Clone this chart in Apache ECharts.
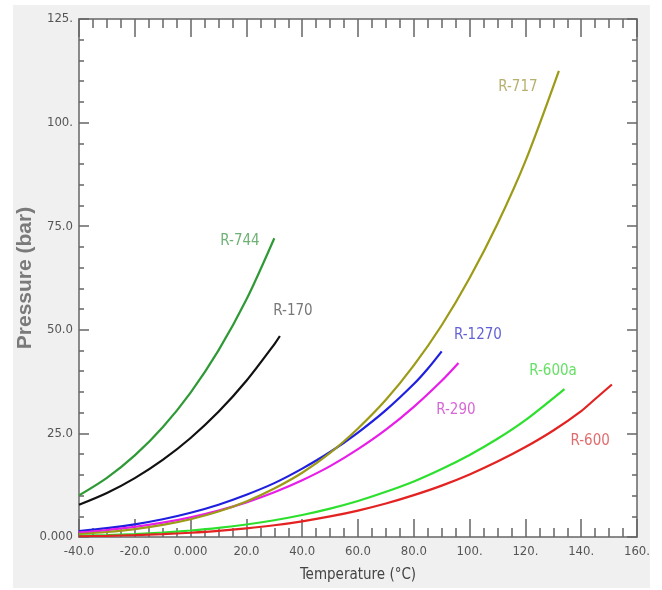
<!DOCTYPE html>
<html>
<head>
<meta charset="utf-8">
<script src="https://cdn.jsdelivr.net/npm/echarts@6/dist/echarts.min.js"></script>
<style>
  html, body { margin: 0; padding: 0; background: #ffffff; }
  #chart { position: absolute; left: 13px; top: 5px; width: 637px; height: 583px; }
</style>
</head>
<body>
<div id="chart"></div>
<script>
// ---- Data (saturation pressure, bar, vs temperature, °C) ----
const r744T  = [-40, -30, -20, -10, 0, 10, 20, 30];
const r744P  = [10.05, 14.28, 19.70, 26.49, 34.85, 45.02, 57.29, 72.1];

const r170T  = [-40, -30, -20, -10, 0, 10, 20, 30, 32];
const r170P  = [7.76, 10.6, 14.2, 18.6, 23.9, 30.2, 37.7, 46.5, 48.5];

const r1270T = [-40, -30, -20, -10, 0, 10, 20, 30, 40, 50, 60, 70, 80, 85, 90];
const r1270P = [1.43, 2.12, 3.06, 4.28, 5.85, 7.80, 10.2, 13.0, 16.5, 20.5, 25.2, 30.6, 36.9, 40.6, 44.8];

const r290T  = [-40, -30, -20, -10, 0, 10, 20, 30, 40, 50, 60, 70, 80, 90, 96];
const r290P  = [1.11, 1.68, 2.44, 3.45, 4.74, 6.36, 8.36, 10.8, 13.7, 17.1, 21.2, 25.9, 31.4, 37.7, 42.0];

const r717T  = [-40, -30, -20, -10, 0, 10, 20, 30, 40, 50, 60, 70, 80, 90, 100, 110, 120, 132];
const r717P  = [0.72, 1.20, 1.90, 2.91, 4.29, 6.15, 8.57, 11.7, 15.5, 20.3, 26.2, 33.1, 41.4, 51.1, 62.5, 75.6, 90.7, 112.5];

const r600aT = [-40, -30, -20, -10, 0, 10, 20, 30, 40, 50, 60, 70, 80, 90, 100, 110, 120, 134];
const r600aP = [0.29, 0.46, 0.72, 1.08, 1.57, 2.20, 3.02, 4.05, 5.31, 6.85, 8.69, 10.9, 13.4, 16.4, 19.8, 23.7, 28.2, 35.7];

const r600T  = [-40, -30, -20, -10, 0, 10, 20, 30, 40, 50, 60, 70, 80, 90, 100, 110, 120, 130, 140, 145, 151];
const r600P  = [0.18, 0.29, 0.45, 0.68, 1.03, 1.48, 2.08, 2.83, 3.79, 4.96, 6.38, 8.08, 10.1, 12.4, 15.1, 18.2, 21.7, 25.7, 30.4, 33.3, 36.8];

const seriesNames = ['R-744', 'R-170', 'R-1270', 'R-290', 'R-717', 'R-600a', 'R-600'];

// tick labels as printed on the chart
const xTickLabels = ['-40.0', '-20.0', '0.000', '20.0', '40.0', '60.0', '80.0', '100.', '120.', '140.', '160.'];
const yTickLabels = ['0.000', '25.0', '50.0', '75.0', '100.', '125.'];

// curve-label anchors (data units)
const labelX = [17.7, 36.7, 103, 95.1, 117.3, 129.9, 143.2];
const labelY = [71.5, 54.6, 48.6, 30.7, 108.5, 40.1, 23.2];

// ---- Styling ----
const lineColors  = ['#2f9a35', '#111111', '#1f1fe0', '#e81ee8', '#9c9a16', '#2ee02e', '#e32222'];
const labelColors = ['#4a9e52', '#555555', '#3a3acb', '#cc3fcc', '#a39c4a', '#3fd83f', '#d84848'];

const xs = [r744T, r170T, r1270T, r290T, r717T, r600aT, r600T];
const ys = [r744P, r170P, r1270P, r290P, r717P, r600aP, r600P];

const narrow = "'DejaVu Sans Condensed', 'Liberation Sans Narrow', 'Liberation Sans', sans-serif";
const axisGray = '#666666';
const xMin = -40, xMax = 160, xStep = 20;
const yMin = 0, yMax = 125, yStep = 25;

const lineSeries = seriesNames.map((name, i) => ({
  name: name,
  type: 'line',
  xAxisIndex: 0,
  yAxisIndex: 0,
  smooth: 0.3,
  symbol: 'none',
  lineStyle: { color: lineColors[i], width: 2.2 },
  data: xs[i].map((t, k) => [t, ys[i][k]]),
  z: 3
}));

const labelSeries = {
  type: 'scatter',
  xAxisIndex: 0,
  yAxisIndex: 0,
  symbolSize: 0,
  silent: true,
  data: seriesNames.map((name, i) => ({
    name: name,
    value: [labelX[i], labelY[i]],
    label: { color: labelColors[i] }
  })),
  label: {
    show: true,
    position: 'inside',
    formatter: p => p.name,
    fontFamily: narrow,
    fontSize: 15
  },
  z: 4
};

const tickCommon = (len, minorLen, split) => ({
  axisLine: { show: true, onZero: false, lineStyle: { color: axisGray, width: 1.5 } },
  axisTick: { show: true, inside: true, length: len, lineStyle: { color: axisGray, width: 1.5 } },
  minorTick: { show: true, splitNumber: split, length: minorLen, lineStyle: { color: axisGray, width: 1.5 } },
  splitLine: { show: false }
});

const chart = echarts.init(document.getElementById('chart'));
chart.setOption({
  backgroundColor: '#f0f0f0',
  animation: false,
  grid: {
    left: 66, right: 13, top: 14, bottom: 51,
    containLabel: false, outerBoundsMode: 'none',
    show: true, backgroundColor: '#ffffff', borderWidth: 0
  },
  xAxis: [
    Object.assign({
      type: 'value', position: 'bottom', min: xMin, max: xMax, interval: xStep,
      name: 'Temperature (°C)', nameLocation: 'middle', nameGap: 31, nameMoveOverlap: false,
      nameTextStyle: { fontFamily: narrow, fontSize: 15, color: '#444444' },
      axisLabel: {
        margin: 8, fontFamily: narrow, fontSize: 13, color: '#555555',
        formatter: v => xTickLabels[Math.round((v - xMin) / xStep)]
      }
    }, tickCommon(18, 9, 4)),
    Object.assign({
      type: 'value', position: 'top', min: xMin, max: xMax, interval: xStep,
      axisLabel: { show: false }
    }, tickCommon(18, 9, 4))
  ],
  yAxis: [
    Object.assign({
      type: 'value', position: 'left', min: yMin, max: yMax, interval: yStep,
      name: 'Pressure (bar)', nameLocation: 'middle', nameGap: 43, nameMoveOverlap: false,
      nameTextStyle: { fontFamily: "'Liberation Sans', Arial, sans-serif", fontWeight: 'bold', fontSize: 21, color: '#7a7a7a' },
      axisLabel: {
        margin: 6, fontFamily: narrow, fontSize: 13, color: '#555555',
        formatter: v => yTickLabels[Math.round((v - yMin) / yStep)]
      }
    }, tickCommon(10, 5, 5)),
    Object.assign({
      type: 'value', position: 'right', min: yMin, max: yMax, interval: yStep,
      axisLabel: { show: false }
    }, tickCommon(10, 5, 5))
  ],
  series: lineSeries.concat([labelSeries])
});
</script>
</body>
</html>
